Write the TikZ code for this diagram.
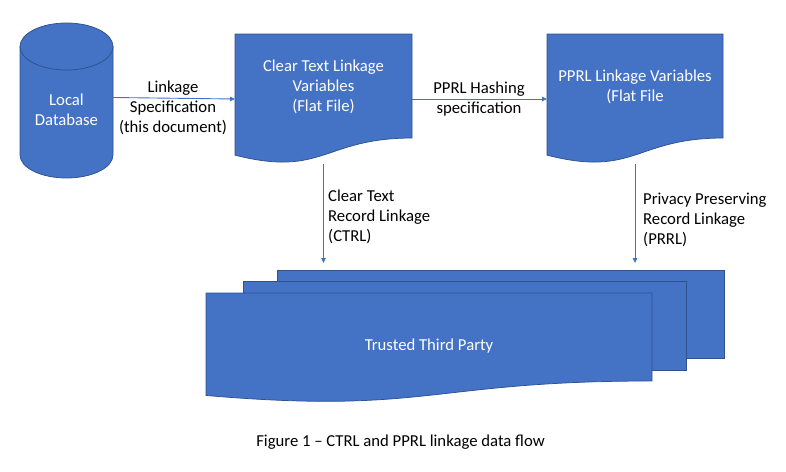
\documentclass[tikz,border=0pt]{standalone}
\usepackage{fontspec}
\setmainfont{Carlito}
\usetikzlibrary{arrows.meta}
\definecolor{ofblue}{HTML}{4472C4}
\definecolor{ofedge}{HTML}{2F528F}
\newcommand\docpath[4]{(#1,#2) -- ({#1+#3},#2) -- ({#1+#3},{#2+0.802*#4}) .. controls ({#1+0.5*#3},{#2+0.802*#4}) and ({#1+0.5*#3},{#2+1.1075*#4}) .. (#1,{#2+0.934*#4}) -- cycle}
\tikzset{
  shapefill/.style={fill=ofblue, draw=ofedge, line width=0.75pt},
  box/.style={inner sep=0pt, outer sep=0pt, minimum width=#1},
  arr/.style={draw=ofblue, line width=0.9pt, -{Triangle[length=5pt,width=4.5pt]}},
  lbl/.style={font=\fontsize{16.7}{20}\selectfont, text=black, inner sep=0pt},
  wlbl/.style={font=\fontsize{16.7}{20}\selectfont, text=white, inner sep=0pt, align=center},
}
\begin{document}
\begin{tikzpicture}[x=1pt,y=-1pt]
\useasboundingbox (0,0) rectangle (786,471);
% invisible boxes for connectors
\node[box=93pt, minimum height=155pt] (db) at (66.5,100.5) {};
\node[box=177pt, minimum height=130pt] (doc1) at (323.5,99) {};
\node[box=176pt, minimum height=130pt] (doc2) at (635,99) {};
\node[box=447pt, minimum height=88pt] (back) at (500.5,314) {};
% connectors (drawn first, shapes cover their ends)
\draw[arr] ([yshift=3pt]db.east) -- (doc1.west);
\draw[arr] (doc1.east) -- (doc2.west);
\draw[arr, shorten >=7pt] (doc1) -- (doc1 |- back.north);
\draw[arr, shorten >=7pt] (doc2) -- (doc2 |- back.north);
% cylinder
\path[shapefill] (20,46.5) -- (20,155) .. controls (20,167.7) and (40.8,178) .. (66.5,178) .. controls (92.2,178) and (113,167.7) .. (113,155) -- (113,46.5) -- cycle;
\path[shapefill] (66.5,46.5) ellipse [x radius=46.5, y radius=23.5];
% documents
\path[shapefill] \docpath{235}{34}{177}{129.7};
\path[shapefill] \docpath{547}{34}{176}{129.7};
% multi document
\path[shapefill] (277,270) rectangle (724,358);
\path[shapefill] (243,281) rectangle (686,370);
\path[shapefill] \docpath{206}{293}{446}{109.7};
% texts
\node[wlbl] (dbt) at (66.5,110) {Local\\Database};
\node[wlbl] (d1t) at (323.5,87) {Clear Text Linkage\\Variables\\(Flat File)};
\node[wlbl] (d2t) at (635,87) {PPRL Linkage Variables\\(Flat File};
\node[wlbl] (ttp) at (429,346) {Trusted Third Party};
\node[lbl, align=center] (l1) at (173,108) {Linkage\\Specification\\(this document)};
\node[lbl, align=center] (l2) at (479,99) {PPRL Hashing\\specification};
\node[lbl, align=left, anchor=west] (l3) at (328,217) {Clear Text\\Record Linkage\\(CTRL)};
\node[lbl, align=left, anchor=west] (l4) at (643,220) {Privacy Preserving\\Record Linkage\\(PRRL)};
\node[lbl] (cap) at (400.5,442) {Figure 1 – CTRL and PPRL linkage data flow};
\end{tikzpicture}
\end{document}
